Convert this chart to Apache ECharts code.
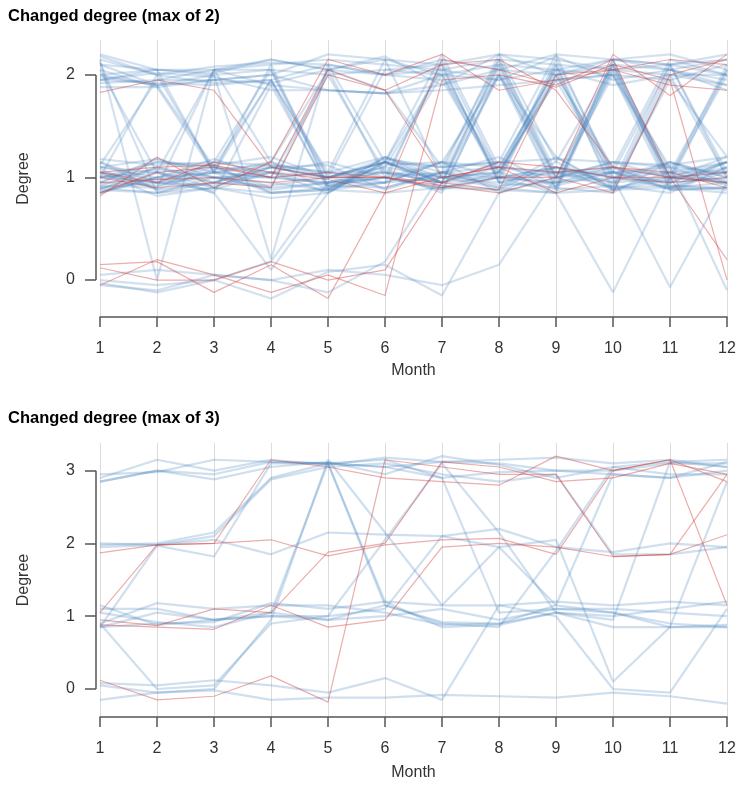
<!DOCTYPE html>
<html>
<head>
<meta charset="utf-8">
<script src="https://cdn.jsdelivr.net/npm/echarts@6/dist/echarts.min.js"></script>
<style>
  html, body { margin: 0; padding: 0; background: #fff; }
  #degreeChart { width: 745px; height: 787px; }
</style>
</head>
<body>
<div id="degreeChart"></div>
<script>
  // months on the x axis
  const months = [1, 2, 3, 4, 5, 6, 7, 8, 9, 10, 11, 12];
  const degreeTicksMax2 = [0, 1, 2];
  const degreeTicksMax3 = [0, 1, 2, 3];

  // panel 1: changed degree (max of 2), blue lines
  const max2Blue = [
    [2.2, 2.05, 2.05, 2.15, 2.05, 2.15, 2.1, 2.2, 2.15, 2.05, 2.1, 2.15],
    [2.15, 2.0, 2.08, 2.12, 2.1, 2.0, 2.15, 2.05, 2.2, 2.15, 2.2, 2.05],
    [2.1, 1.9, 2.0, 2.05, 2.0, 2.05, 2.0, 1.95, 2.05, 2.15, 2.1, 2.2],
    [2.05, 1.88, 1.95, 2.0, 1.85, 1.82, 1.85, 1.9, 1.95, 2.0, 1.95, 2.1],
    [1.95, 2.02, 1.98, 1.85, 1.85, 1.82, 2.0, 2.1, 2.05, 1.9, 2.0, 2.0],
    [1.92, 1.95, 2.05, 2.1, 2.15, 2.1, 2.05, 2.15, 2.1, 2.05, 2.0, 1.9],
    [2.18, 2.0, 1.92, 1.95, 1.0, 1.15, 0.95, 2.15, 1.0, 2.1, 1.05, 2.05],
    [2.12, 0.85, 0.95, 1.1, 1.0, 1.15, 2.05, 1.0, 2.15, 1.05, 2.1, 1.05],
    [2.15, 0.0, 2.05, 2.05, 1.0, 0.9, 1.05, 1.1, 2.05, 0.9, 1.95, 1.2],
    [2.0, 1.9, 1.1, 0.9, 0.95, 1.1, 2.0, 0.95, 0.9, 2.15, 0.95, 1.15],
    [1.88, 1.88, 1.05, 1.95, 0.88, 1.15, 0.95, 2.0, 1.2, 0.9, 2.05, 1.95],
    [1.95, 2.05, 2.0, 0.2, 2.1, 2.0, 1.95, 1.0, 0.85, 2.1, 1.0, 0.95],
    [1.0, 1.15, 1.1, 1.05, 1.0, 1.18, 1.1, 1.15, 1.18, 1.15, 1.12, 1.2],
    [0.95, 1.18, 1.05, 1.15, 1.0, 1.05, 0.95, 1.0, 1.1, 1.0, 0.95, 1.0],
    [0.9, 0.85, 0.9, 0.85, 0.88, 0.85, 0.9, 0.88, 0.85, 0.88, 0.9, 0.85],
    [1.18, 1.12, 1.15, 1.12, 1.05, 1.2, 1.0, 0.95, 1.05, 0.95, 1.0, 0.98],
    [1.05, 0.82, 0.9, 0.8, 0.85, 1.15, 1.1, 1.15, 0.9, 0.85, 1.15, 1.0],
    [1.1, 1.0, 1.18, 1.0, 0.95, 1.0, 0.88, 2.0, 1.0, 1.1, 0.88, 0.9],
    [0.85, 1.05, 0.85, 1.9, 0.9, 0.95, 2.15, 1.05, 1.95, 1.0, 1.05, 0.95],
    [1.12, 1.95, 1.95, 2.0, 2.2, 2.15, 1.0, 2.1, 0.95, 2.0, 0.88, 1.1],
    [0.92, 0.9, 2.05, 1.15, 2.05, 1.0, 0.9, 1.05, 2.1, 0.85, 2.0, 1.0],
    [1.02, 0.95, 0.88, 1.05, 1.15, 1.0, 1.15, 1.1, 1.0, 1.15, 1.0, 1.15],
    [0.88, 1.1, 1.0, 0.95, 0.88, 1.08, 0.92, 0.88, 1.15, 0.9, 0.92, 0.88],
    [1.15, 0.88, 0.95, 1.1, 1.12, 0.88, 1.05, 1.2, 0.92, 1.05, 1.05, 1.05],
    [0.95, 1.15, 1.12, 0.85, 0.9, 1.12, 1.15, 0.85, 1.0, 1.15, 1.1, 0.92],
    [1.05, 0.98, 1.05, 1.0, 1.05, 0.95, 1.0, 1.05, 0.88, 0.92, 0.85, 1.1],
    [0.9, 1.0, 0.85, 0.1, 0.85, 1.15, 2.2, 1.1, 2.05, 2.0, 1.0, 2.1],
    [1.0, 1.08, 1.0, 0.9, 2.05, 1.85, 1.1, 2.15, 1.05, 1.1, 1.0, 1.2],
    [0.85, 1.0, 1.12, 1.2, 1.0, 1.1, 1.0, 0.9, 0.85, -0.12, 1.0, 1.05],
    [1.15, 0.95, 0.92, 1.05, 0.92, 0.9, 1.05, 1.0, 1.1, 1.0, -0.07, 0.95],
    [1.08, 0.88, 1.08, 1.12, 1.05, 1.05, 0.95, 1.1, 1.05, 1.05, 1.1, -0.1],
    [-0.05, -0.1, 0.05, 0.0, 0.1, 0.05, -0.05, 0.15, 1.0, 1.05, 0.9, 1.15],
    [-0.03, -0.12, 0.0, -0.18, 0.08, 0.15, -0.15, 0.85, 1.1, 0.95, 1.15, 1.0],
    [0.05, 0.1, 0.05, 0.0, -0.12, 0.18, 1.05, 0.92, 0.95, 1.1, 0.92, 0.9],
    [0.0, -0.05, 0.0, 0.18, 0.95, 1.05, 1.0, 1.05, 2.0, 1.1, 2.15, 2.0],
    [2.05, 1.05, 2.05, 1.9, 1.85, 1.82, 1.9, 2.05, 2.0, 2.1, 2.05, 1.85],
    [1.0, 2.0, 1.05, 2.1, 0.92, 1.0, 2.1, 0.95, 2.1, 0.95, 2.1, 1.0],
    [0.9, 0.95, 1.0, 1.0, 2.0, 1.05, 0.85, 2.05, 0.9, 2.05, 0.95, 2.05],
    [1.1, 1.05, 0.95, 0.92, 1.0, 2.05, 2.1, 0.95, 1.1, 0.88, 1.05, 1.15],
    [1.95, 1.92, 1.9, 1.95, 2.1, 1.15, 1.0, 1.0, 0.95, 1.0, 0.9, 0.95],
    [1.0, 0.95, 1.1, 1.95, 1.05, 2.15, 2.0, 1.05, 1.95, 2.0, 1.1, 1.05],
    [0.95, 0.92, 1.05, 1.0, 0.95, 0.95, 1.15, 2.0, 0.88, 2.15, 2.05, 1.9],
    [1.0, 1.05, 0.9, 1.1, 1.0, 1.15, 0.9, 1.0, 1.05, 0.9, 1.0, 0.95],
    [0.88, 0.85, 1.0, 0.88, 0.95, 1.0, 0.88, 1.0, 0.95, 1.05, 0.88, 0.9],
    [1.1, 1.18, 1.0, 1.05, 0.85, 1.2, 1.05, 0.9, 1.2, 0.88, 0.98, 1.1],
    [2.1, 2.05, 2.02, 2.15, 2.05, 2.18, 1.9, 2.2, 2.0, 2.15, 2.1, 2.0],
    [1.98, 1.9, 1.95, 1.92, 2.05, 2.0, 2.05, 1.95, 2.18, 1.95, 2.05, 2.15],
    [0.92, 1.1, 0.95, 1.15, 0.88, 1.2, 0.95, 2.1, 1.0, 2.05, 1.0, 2.0],
    [1.05, 0.9, 1.15, 2.05, 0.92, 1.0, 1.05, 2.2, 1.15, 2.1, 0.9, 1.05],
    [2.0, 2.05, 1.05, 1.1, 1.0, 1.15, 0.95, 1.15, 2.2, 1.0, 1.15, 0.95],
    [0.85, 1.0, 1.05, 0.85, 0.88, 0.95, 1.15, 1.0, 2.0, 1.05, 0.95, 1.15]
  ];

  // panel 1: red lines
  const max2Red = [
    [1.83, 1.95, 1.85, 1.1, 1.0, 1.0, 0.9, 1.0, 1.0, 2.2, 1.8, 2.2],
    [0.82, 1.2, 0.9, 1.15, 2.15, 2.0, 2.2, 1.85, 1.95, 2.05, 2.15, 2.1],
    [0.85, 1.05, 1.1, 1.0, 2.05, 1.85, 1.0, 1.1, 0.85, 1.0, 1.0, 0.95],
    [1.05, 0.95, 1.15, 1.05, 0.98, 0.85, 2.15, 2.05, 1.9, 2.15, 1.0, 0.2],
    [0.95, 0.98, 1.0, 0.95, 1.0, 1.0, 0.92, 0.85, 1.0, 0.85, 2.0, 2.15],
    [0.15, 0.18, -0.12, 0.15, -0.18, 0.85, 1.0, 1.1, 1.05, 1.1, 1.0, 1.05],
    [-0.05, 0.2, 0.05, -0.12, 0.05, -0.15, 1.95, 2.0, 1.88, 2.1, 1.95, 0.0],
    [0.12, 0.0, 0.0, 0.18, 0.0, 0.1, 0.95, 0.88, 2.0, 2.05, 1.9, 1.85],
    [1.0, 0.9, 0.95, 0.9, 2.0, 1.85, 2.1, 2.15, 1.85, 1.1, 1.05, 0.9],
    [1.05, 1.1, 1.12, 1.0, 1.05, 1.0, 0.95, 1.15, 1.1, 1.0, 0.95, 1.0]
  ];

  // panel 2: changed degree (max of 3), blue lines
  const max3Blue = [
    [2.85, 3.0, 2.95, 3.12, 3.1, 3.05, 3.12, 3.1, 3.0, 3.0, 3.1, 3.1],
    [2.9, 3.15, 3.0, 3.15, 3.08, 3.18, 3.12, 3.15, 3.18, 3.1, 3.15, 3.05],
    [2.95, 2.98, 3.15, 3.12, 3.1, 3.05, 2.9, 2.98, 3.0, 2.95, 2.9, 3.12],
    [2.85, 3.0, 2.88, 3.05, 3.12, 2.95, 3.2, 3.08, 2.9, 3.05, 3.12, 3.15],
    [2.0, 1.98, 2.1, 2.88, 3.05, 3.1, 2.95, 2.85, 2.95, 1.85, 1.85, 1.95],
    [1.98, 2.0, 2.15, 2.9, 3.1, 1.15, 0.92, 0.9, 1.15, 1.05, 0.85, 0.85],
    [1.95, 1.98, 2.05, 1.85, 2.15, 2.12, 2.1, 1.95, 1.15, 2.95, 2.9, 3.0],
    [0.85, 1.97, 1.82, 3.1, 3.1, 3.15, 2.9, 1.05, 1.1, 1.05, 0.9, 0.85],
    [1.1, 1.1, 0.95, 1.05, 0.95, 1.15, 0.9, 0.85, 1.9, 3.05, 2.95, 2.95],
    [0.85, 0.9, 0.92, 1.18, 1.1, 1.2, 1.15, 1.15, 1.2, 1.15, 1.2, 1.15],
    [1.15, 0.88, 0.95, 1.0, 0.95, 1.0, 1.1, 0.95, 1.1, 1.1, 1.05, 1.0],
    [0.9, 1.18, 1.1, 1.15, 1.15, 1.05, 0.88, 0.9, 1.05, 0.85, 0.85, 0.88],
    [0.85, 1.05, 0.95, 1.0, 1.0, 1.1, 2.1, 2.2, 1.95, 1.88, 2.0, 1.95],
    [1.05, 0.92, 0.85, 1.05, 3.1, 1.2, 0.85, 0.88, 1.05, 1.0, 1.1, 1.2],
    [0.9, 0.0, 0.05, 0.9, 1.0, 2.05, 3.1, 2.15, 1.05, 0.95, 3.12, 3.05],
    [0.05, -0.05, 0.0, 0.95, 3.15, 2.15, 1.15, 1.95, 2.05, 0.1, 0.85, 2.85],
    [0.08, 0.05, 0.12, 0.05, -0.05, 0.15, -0.15, 1.15, 1.0, 0.0, -0.05, 1.1],
    [-0.15, -0.05, -0.02, -0.15, -0.12, -0.12, -0.08, -0.1, -0.12, -0.05, -0.1, -0.2]
  ];

  // panel 2: red lines
  const max3Red = [
    [1.87, 1.98, 2.0, 2.05, 1.83, 1.98, 2.05, 2.07, 1.85, 3.0, 3.15, 2.85],
    [1.05, 1.98, 2.0, 3.15, 3.05, 2.9, 2.85, 2.8, 3.2, 3.0, 3.15, 1.15],
    [0.12, -0.15, -0.1, 0.18, -0.18, 3.15, 3.05, 2.95, 2.95, 1.82, 1.85, 2.12],
    [0.88, 0.85, 0.82, 1.15, 0.85, 0.95, 1.95, 2.0, 1.95, 1.82, 1.85, 2.95],
    [0.95, 0.87, 1.1, 1.05, 1.88, 2.0, 3.12, 3.05, 2.85, 2.9, 3.1, 2.95]
  ];

  const fontFamily = '"Liberation Sans", Arial, sans-serif';

  function lineSeries(rows, color, width, gridIdx) {
    return rows.map(vals => ({
      type: 'line',
      xAxisIndex: gridIdx,
      yAxisIndex: gridIdx,
      symbol: 'none',
      silent: true,
      lineStyle: { color: color, width: width },
      data: months.map((m, i) => [m, vals[i]])
    }));
  }

  // R style y axis line, only from first to last tick
  function axisBracket(gridIdx, lo, hi) {
    return {
      type: 'custom',
      xAxisIndex: gridIdx,
      yAxisIndex: gridIdx,
      clip: false,
      silent: true,
      data: [[months[0], lo, hi]],
      encode: { x: 0, y: 1 },
      renderItem(params, api) {
        const a = api.coord([api.value(0), api.value(1)]);
        const b = api.coord([api.value(0), api.value(2)]);
        return {
          type: 'line',
          shape: { x1: a[0] - 4, y1: a[1], x2: b[0] - 4, y2: b[1] },
          style: { stroke: '#555', lineWidth: 1.5 }
        };
      }
    };
  }

  function xAxisFor(gridIdx, nameGap) {
    return {
      type: 'value',
      gridIndex: gridIdx,
      min: 1,
      max: 12,
      interval: 1,
      name: 'Month',
      nameLocation: 'middle',
      nameGap: nameGap,
      nameTextStyle: { fontSize: 16, color: '#333', fontFamily },
      axisLine: { show: true, onZero: false, lineStyle: { color: '#555', width: 1.5 } },
      axisTick: { show: true, length: 10, lineStyle: { color: '#555', width: 1.5 } },
      axisLabel: { fontSize: 16, color: '#333', margin: 24, fontFamily },
      splitLine: { show: true, lineStyle: { color: '#dcdcdc', width: 1 } }
    };
  }

  function yAxisFor(gridIdx, min, max, ticks) {
    return {
      type: 'value',
      gridIndex: gridIdx,
      min: min,
      max: max,
      offset: 4,
      name: 'Degree',
      nameLocation: 'middle',
      nameGap: 64,
      nameRotate: 90,
      nameTextStyle: { fontSize: 16, color: '#333', fontFamily },
      axisLine: { show: false, onZero: false },
      axisTick: { show: true, length: 11, customValues: ticks, lineStyle: { color: '#555', width: 1.5 } },
      axisLabel: { fontSize: 16, color: '#333', margin: 21, customValues: ticks, fontFamily },
      splitLine: { show: false }
    };
  }

  const chart = echarts.init(document.getElementById('degreeChart'));
  chart.setOption({
    animation: false,
    backgroundColor: '#fff',
    title: [{
      text: 'Changed degree (max of 2)',
      left: 3,
      top: 3,
      textStyle: { fontSize: 16.5, fontWeight: 'bold', color: '#000', fontFamily }
    }, {
      text: 'Changed degree (max of 3)',
      left: 3,
      top: 405,
      textStyle: { fontSize: 16.5, fontWeight: 'bold', color: '#000', fontFamily }
    }],
    grid: [
      { left: 100, right: 18, top: 40, height: 277 },
      { left: 100, right: 18, top: 443, height: 274 }
    ],
    xAxis: [xAxisFor(0, 46), xAxisFor(1, 48)],
    yAxis: [
      yAxisFor(0, -0.36, 2.34, degreeTicksMax2),
      yAxisFor(1, -0.385, 3.38, degreeTicksMax3)
    ],
    series: [].concat(
      lineSeries(max2Blue, 'rgba(70,130,190,0.24)', 2.2, 0),
      lineSeries(max2Red, 'rgba(210,60,60,0.42)', 1.2, 0),
      lineSeries(max3Blue, 'rgba(70,130,190,0.26)', 2.2, 1),
      lineSeries(max3Red, 'rgba(210,60,60,0.42)', 1.2, 1),
      [axisBracket(0, 0, 2), axisBracket(1, 0, 3)]
    )
  });
</script>
</body>
</html>
